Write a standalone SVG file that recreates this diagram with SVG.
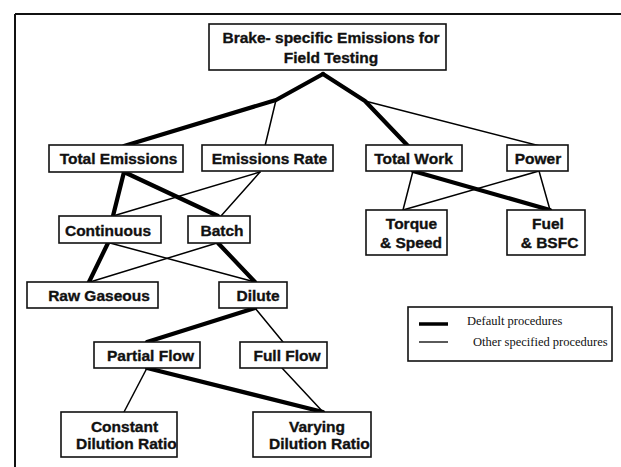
<svg xmlns="http://www.w3.org/2000/svg" width="621" height="467" viewBox="0 0 621 467">
<style>
.box{fill:#fff;stroke:#111;stroke-width:1.6}
.t{font-family:"Liberation Sans",Arial,sans-serif;font-weight:bold;font-size:15.5px;fill:#111;stroke:#111;stroke-width:0.35;text-anchor:middle}
.ts{text-anchor:start}
.thick{stroke:#000;stroke-width:4.2;fill:none;stroke-linecap:round;stroke-linejoin:round}
.thin{stroke:#000;stroke-width:1.5;fill:none;stroke-linecap:round}
.leg{font-family:"Liberation Serif","Times New Roman",serif;font-size:12.5px;fill:#111}
</style>
<defs>
<clipPath id="cc"><rect x="61" y="412" width="116" height="45"/></clipPath>
<clipPath id="cv"><rect x="253" y="412" width="118" height="45"/></clipPath>
</defs>
<rect x="0" y="0" width="621" height="467" fill="#fff"/>
<g id="frame">
<line x1="15" y1="14" x2="621" y2="14" stroke="#111" stroke-width="2"/>
<line x1="15" y1="14" x2="15" y2="467" stroke="#111" stroke-width="2"/>
</g>
<g id="connectors">
<polyline class="thick" points="323,74 276,100 124,146"/>
<line class="thin" x1="276" y1="100" x2="265" y2="146"/>
<polyline class="thick" points="323,74 365,101 408,146"/>
<line class="thin" x1="365" y1="101" x2="540" y2="146"/>
<line class="thick" x1="124" y1="172" x2="113" y2="216"/>
<line class="thick" x1="124" y1="172" x2="218" y2="216"/>
<line class="thin" x1="260" y1="172" x2="113" y2="216"/>
<line class="thin" x1="260" y1="172" x2="221" y2="216"/>
<line class="thick" x1="108" y1="243" x2="89" y2="282"/>
<line class="thin" x1="110" y1="243" x2="255" y2="282"/>
<line class="thin" x1="217" y1="243" x2="90" y2="282"/>
<line class="thick" x1="218" y1="243" x2="255" y2="282"/>
<line class="thin" x1="413" y1="171" x2="403" y2="210"/>
<line class="thick" x1="413" y1="171" x2="550" y2="210"/>
<line class="thin" x1="539" y1="171" x2="403" y2="210"/>
<line class="thin" x1="539" y1="171" x2="550" y2="210"/>
<line class="thick" x1="255" y1="308" x2="147" y2="342"/>
<line class="thin" x1="255" y1="308" x2="283" y2="342"/>
<line class="thin" x1="147" y1="368" x2="124" y2="412"/>
<line class="thick" x1="147" y1="368" x2="323" y2="412"/>
<line class="thin" x1="282" y1="368" x2="323" y2="412"/>
</g>
<g id="n-top">
<rect class="box" x="209" y="24" width="237" height="46"/>
<text class="t" x="331" y="43">Brake- specific Emissions for</text>
<text class="t" x="331" y="63">Field Testing</text>
</g>
<g id="n-total-emissions">
<rect class="box" x="49" y="145" width="134" height="27"/>
<text class="t" x="118.5" y="164">Total Emissions</text>
</g>
<g id="n-emissions-rate">
<rect class="box" x="202" y="145" width="131" height="26"/>
<text class="t" x="269.5" y="164">Emissions Rate</text>
</g>
<g id="n-total-work">
<rect class="box" x="366" y="145" width="96" height="26"/>
<text class="t" x="413.5" y="164">Total Work</text>
</g>
<g id="n-power">
<rect class="box" x="507" y="145" width="61" height="26"/>
<text class="t" x="538" y="164">Power</text>
</g>
<g id="n-continuous">
<rect class="box" x="59" y="216" width="102" height="27"/>
<text class="t" x="108" y="236">Continuous</text>
</g>
<g id="n-batch">
<rect class="box" x="188" y="216" width="62" height="27"/>
<text class="t" x="222" y="236">Batch</text>
</g>
<g id="n-torque">
<rect class="box" x="366" y="210" width="81" height="45"/>
<text class="t" x="411.5" y="229">Torque</text>
<text class="t" x="411" y="248">&amp; Speed</text>
</g>
<g id="n-fuel">
<rect class="box" x="507" y="210" width="78" height="45"/>
<text class="t" x="548" y="229">Fuel</text>
<text class="t" x="549.5" y="248">&amp; BSFC</text>
</g>
<g id="n-raw">
<rect class="box" x="27" y="282" width="131" height="26"/>
<text class="t" x="99" y="301">Raw Gaseous</text>
</g>
<g id="n-dilute">
<rect class="box" x="219" y="282" width="68" height="26"/>
<text class="t" x="258" y="301">Dilute</text>
</g>
<g id="n-partial">
<rect class="box" x="94" y="342" width="106" height="26"/>
<text class="t" x="150.5" y="361">Partial Flow</text>
</g>
<g id="n-full">
<rect class="box" x="240" y="342" width="87" height="26"/>
<text class="t" x="287" y="361">Full Flow</text>
</g>
<g id="n-constant">
<rect class="box" x="61" y="412" width="116" height="45"/>
<text class="t" x="124.5" y="432">Constant</text>
<text class="t ts" x="76" y="449" clip-path="url(#cc)">Dilution Ratio</text>
</g>
<g id="n-varying">
<rect class="box" x="253" y="412" width="118" height="45"/>
<text class="t" x="317" y="432">Varying</text>
<text class="t ts" x="269" y="449" clip-path="url(#cv)">Dilution Ratio</text>
</g>
<g id="legend">
<rect class="box" x="408" y="307" width="204" height="54"/>
<line x1="419" y1="324" x2="448" y2="324" stroke="#000" stroke-width="3.5"/>
<line x1="419" y1="342" x2="448" y2="342" stroke="#000" stroke-width="1.3"/>
<text class="leg" x="467" y="325">Default procedures</text>
<text class="leg" x="473" y="346">Other specified procedures</text>
</g>
</svg>
